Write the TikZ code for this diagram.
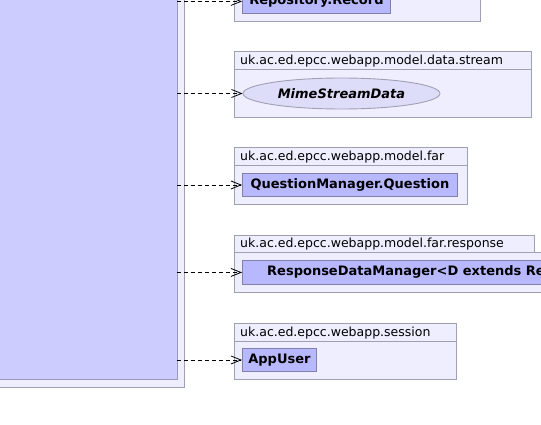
\documentclass[tikz,border=0pt]{standalone}
\usepackage{fontspec}
\setmainfont{DejaVu Sans}
\usetikzlibrary{arrows.meta,shapes.geometric,calc}
\definecolor{bigfill}{RGB}{204,204,255}
\definecolor{panelfill}{RGB}{238,238,255}
\definecolor{panelline}{RGB}{160,160,180}
\definecolor{clsfill}{RGB}{184,184,255}
\definecolor{clsline}{RGB}{128,128,170}
\definecolor{ellfill}{RGB}{221,221,250}
\tikzset{
  panel/.style={draw=panelline, fill=panelfill, line width=0.9pt, rectangle, inner sep=0pt, anchor=north west},
  bigbox/.style={draw=clsline!80, fill=bigfill, line width=0.9pt, rectangle, inner sep=0pt, anchor=north west},
  clsbox/.style={draw=clsline, fill=clsfill, line width=0.9pt, rectangle, inner sep=0pt, anchor=north west, font=\fontsize{13}{15}\selectfont\bfseries},
  ellbox/.style={draw=panelline, fill=ellfill, line width=0.9pt, ellipse, inner sep=0pt, font=\fontsize{13}{15}\selectfont\bfseries\itshape},
  pkgtext/.style={anchor=base west, inner sep=0pt, font=\fontsize{12.5}{15}\selectfont},
  dep/.style={draw=black, line width=0.8pt, dash pattern=on 4pt off 3pt, -{Straight Barb[length=10pt,width=8pt,line width=0.8pt]}},
}
\begin{document}
\begin{tikzpicture}[x=1pt,y=-1pt]
\useasboundingbox (0,0) rectangle (541,425);
\begin{scope}
\clip (0,0) rectangle (541,425);
% outer panel and big box
\node[panel, minimum width=204.3pt, minimum height=417.3pt] (outer) at (-20,-30) {};
\node[bigbox, minimum width=196.5pt, minimum height=409.3pt] (big) at (-20,-30) {};

% package 1: Repository
\node[panel, minimum width=246pt, minimum height=51pt] (p1body) at (234,-30) {};
\node[clsbox, minimum width=148pt, minimum height=24pt] (c1) at (242,-11) {Repository.Record};

% package 2: data.stream
\node[panel, minimum width=297pt, minimum height=18pt] (p2head) at (234,51) {};
\node[panel, minimum width=297pt, minimum height=48pt] (p2body) at (234,69) {};
\node[pkgtext] (p2name) at (240,64.5) {uk.ac.ed.epcc.webapp.model.data.stream};
\node[ellbox, minimum width=197pt, minimum height=31pt] (c2) at (341.5,93.5) {MimeStreamData};

% package 3: far
\node[panel, minimum width=233pt, minimum height=18pt] (p3head) at (234,147) {};
\node[panel, minimum width=233pt, minimum height=39pt] (p3body) at (234,165) {};
\node[pkgtext] (p3name) at (240,160.5) {uk.ac.ed.epcc.webapp.model.far};
\node[clsbox, minimum width=215pt, minimum height=23pt] (c3) at (242,173) {QuestionManager.Question};

% package 4: far.response
\node[panel, minimum width=300pt, minimum height=17pt] (p4head) at (234,235) {};
\node[panel, minimum width=330pt, minimum height=40pt] (p4body) at (234,252) {};
\node[pkgtext] (p4name) at (240,247.5) {uk.ac.ed.epcc.webapp.model.far.response};
\node[clsbox, minimum width=320pt, minimum height=24pt] (c4) at (242,260) {};
\node[anchor=west, inner sep=0pt, font=\fontsize{13}{15}\selectfont\bfseries] (c4text) at (267,272) {ResponseDataManager<D extends Re};

% package 5: session
\node[panel, minimum width=222pt, minimum height=18pt] (p5head) at (234,323) {};
\node[panel, minimum width=222pt, minimum height=38pt] (p5body) at (234,341) {};
\node[pkgtext] (p5name) at (240,336.5) {uk.ac.ed.epcc.webapp.session};
\node[clsbox, minimum width=74pt, minimum height=23pt] (c5) at (242,348) {AppUser};

% dependencies
\draw[dep] (big.east |- c1.west) -- (c1.west);
\draw[dep] (big.east |- c2.west) -- (c2.west);
\draw[dep] (big.east |- c3.west) -- (c3.west);
\draw[dep] (big.east |- c4.west) -- (c4.west);
\draw[dep] (big.east |- c5.west) -- (c5.west);
\end{scope}
\end{tikzpicture}
\end{document}
